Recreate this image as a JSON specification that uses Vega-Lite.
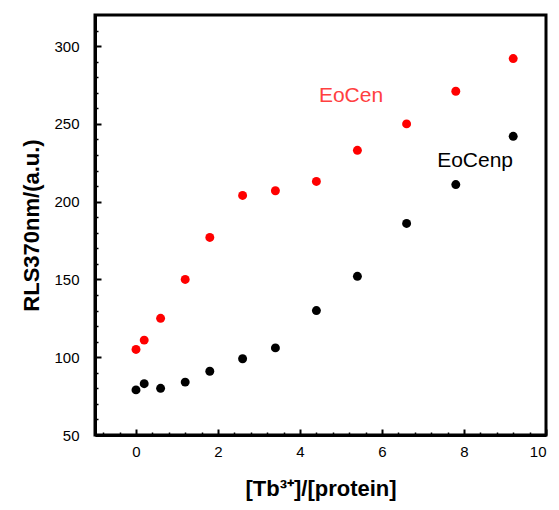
{
  "$schema": "https://vega.github.io/schema/vega-lite/v6.json",
  "width": 451,
  "height": 420,
  "autosize": {"type": "none"},
  "padding": {"left": 95, "top": 15, "right": 13, "bottom": 75},
  "config": {
    "view": {"stroke": "black", "strokeWidth": 3},
    "font": "Liberation Sans",
    "axis": {"grid": false, "labelColor": "#000", "titleColor": "#000", "tickColor": "#000", "domainColor": "#000"}
  },
  "datasets": {
    "points": [
      {"series": "EoCen", "ratio": 0, "rls": 105},
      {"series": "EoCen", "ratio": 0.2, "rls": 111},
      {"series": "EoCen", "ratio": 0.6, "rls": 125},
      {"series": "EoCen", "ratio": 1.2, "rls": 150},
      {"series": "EoCen", "ratio": 1.8, "rls": 177},
      {"series": "EoCen", "ratio": 2.6, "rls": 204},
      {"series": "EoCen", "ratio": 3.4, "rls": 207},
      {"series": "EoCen", "ratio": 4.4, "rls": 213},
      {"series": "EoCen", "ratio": 5.4, "rls": 233},
      {"series": "EoCen", "ratio": 6.6, "rls": 250},
      {"series": "EoCen", "ratio": 7.8, "rls": 271},
      {"series": "EoCen", "ratio": 9.2, "rls": 292},
      {"series": "EoCenp", "ratio": 0, "rls": 79},
      {"series": "EoCenp", "ratio": 0.2, "rls": 83},
      {"series": "EoCenp", "ratio": 0.6, "rls": 80},
      {"series": "EoCenp", "ratio": 1.2, "rls": 84},
      {"series": "EoCenp", "ratio": 1.8, "rls": 91},
      {"series": "EoCenp", "ratio": 2.6, "rls": 99},
      {"series": "EoCenp", "ratio": 3.4, "rls": 106},
      {"series": "EoCenp", "ratio": 4.4, "rls": 130},
      {"series": "EoCenp", "ratio": 5.4, "rls": 152},
      {"series": "EoCenp", "ratio": 6.6, "rls": 186},
      {"series": "EoCenp", "ratio": 7.8, "rls": 211},
      {"series": "EoCenp", "ratio": 9.2, "rls": 242}
    ],
    "labels": [
      {"series": "EoCen", "ratio": 5.245, "rls": 264},
      {"series": "EoCenp", "ratio": 8.27, "rls": 222}
    ]
  },
  "layer": [
    {
      "data": {"name": "points"},
      "mark": {"type": "point", "opacity": 0},
      "encoding": {
        "x": {
          "field": "ratio", "type": "quantitative",
          "scale": {"domain": [-1, 10], "nice": false, "zero": false},
          "axis": {"orient": "bottom", "values": [-0.8, -0.4, 0.4, 0.8, 1.2, 1.6, 2.4, 2.8, 3.2, 3.6, 4.4, 4.8, 5.2, 5.6, 6.4, 6.8, 7.2, 7.6, 8.4, 8.8, 9.2, 9.6], "labels": false, "domain": false, "tickSize": -3, "tickWidth": 1.5, "title": null}
        },
        "y": {
          "field": "rls", "type": "quantitative",
          "scale": {"domain": [50, 320], "nice": false, "zero": false},
          "axis": {"orient": "left", "values": [60, 70, 80, 90, 110, 120, 130, 140, 160, 170, 180, 190, 210, 220, 230, 240, 260, 270, 280, 290, 310], "labels": false, "domain": false, "tickSize": -3, "tickWidth": 1.5, "title": null}
        }
      }
    },
    {
      "data": {"name": "points"},
      "mark": {"type": "circle", "size": 80, "opacity": 1},
      "encoding": {
        "x": {
          "field": "ratio", "type": "quantitative",
          "scale": {"domain": [-1, 10], "nice": false, "zero": false},
          "axis": {"orient": "bottom", "values": [0, 2, 4, 6, 8, 10], "tickSize": -6, "tickWidth": 2, "domainWidth": 3, "labelFontSize": 15, "labelPadding": 15, "title": "[Tb³⁺]/[protein]", "titleFontSize": 22, "titleFontWeight": "bold", "titlePadding": 19}
        },
        "y": {
          "field": "rls", "type": "quantitative",
          "scale": {"domain": [50, 320], "nice": false, "zero": false},
          "axis": {"orient": "left", "values": [50, 100, 150, 200, 250, 300], "tickSize": -6, "tickWidth": 2, "domainWidth": 3, "labelFontSize": 15, "labelPadding": 22, "title": "RLS370nm/(a.u.)", "titleFontSize": 22, "titleFontWeight": "bold", "titlePadding": 10}
        },
        "color": {"field": "series", "type": "nominal", "scale": {"domain": ["EoCen", "EoCenp"], "range": ["#ff0000", "#000000"]}, "legend": null}
      }
    },
    {
      "data": {"name": "labels"},
      "mark": {"type": "text", "fontSize": 21, "align": "center", "baseline": "alphabetic"},
      "encoding": {
        "x": {"field": "ratio", "type": "quantitative", "axis": null},
        "y": {"field": "rls", "type": "quantitative", "axis": null},
        "text": {"field": "series"},
        "color": {"field": "series", "type": "nominal", "scale": {"domain": ["EoCen", "EoCenp"], "range": ["#ff4040", "#000000"]}, "legend": null}
      }
    }
  ],
  "resolve": {"axis": {"x": "independent", "y": "independent"}, "scale": {"color": "independent"}}
}
